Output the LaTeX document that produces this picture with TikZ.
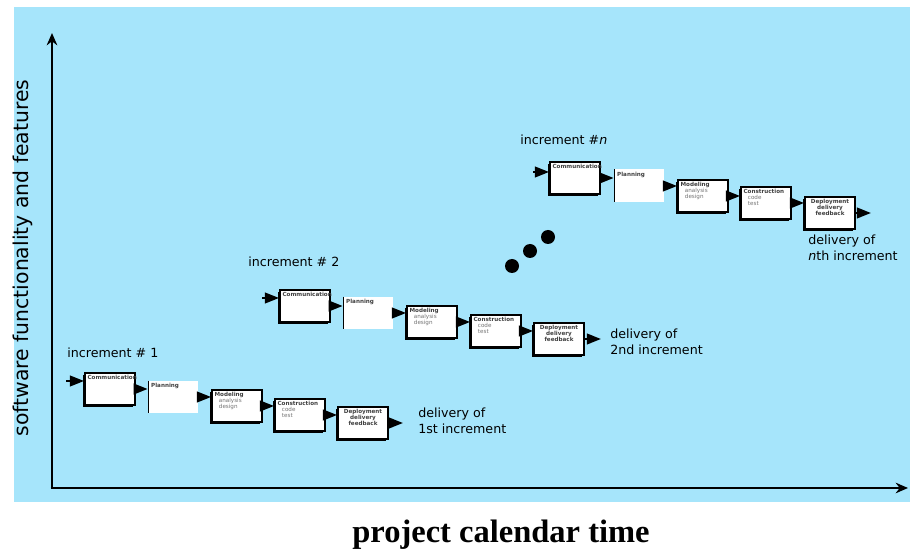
\documentclass[tikz,border=0pt]{standalone}
\usepackage{fontspec}
\setmainfont{DejaVu Sans}
\newfontfamily\calfont{Liberation Serif}
\usetikzlibrary{arrows.meta,shadows}
\definecolor{skyblue}{RGB}{166,229,251}
\newcommand{\phasesub}[1]{\hspace{2.5pt}{\mdseries\color{black!55}#1}}
\newcommand{\comtext}{Communication}
\newcommand{\plantext}{Planning}
\newcommand{\modtext}{Modeling\\[-0.5pt]\phasesub{analysis}\\[-0.5pt]\phasesub{design}}
\newcommand{\context}{Construction\\[-0.5pt]\phasesub{code}\\[-0.5pt]\phasesub{test}}
\newcommand{\deptext}{Deployment\\[-0.5pt]delivery\\[-0.5pt]feedback}
\tikzset{
  stage/.style={draw, line width=1.1pt, fill=white, minimum width=1cm, minimum height=0.64cm, inner sep=0pt,
    drop shadow={shadow xshift=-1pt, shadow yshift=-1pt, fill=black, opacity=1}},
  planbox/.style={fill=white, minimum width=1cm, minimum height=0.66cm, inner sep=0pt,
    path picture={\draw[line width=1.4pt] (path picture bounding box.north west) -- (path picture bounding box.south west);}},
  boxtext/.style={anchor=north west, inner sep=1.8pt, align=left, text=black!75, font=\fontsize{3.2}{3.8}\selectfont\bfseries},
  deptextstyle/.style={boxtext, anchor=north, align=center},
  flow/.style={line width=1.2pt, -{Triangle[length=8pt,width=6pt]}},
  axis/.style={line width=1.6pt, -{Stealth[length=7pt,width=6pt]}},
  inctext/.style={anchor=west, font=\fontsize{7.2}{8.8}\selectfont, align=left, inner sep=0pt},
  dot/.style={circle, fill=black, minimum size=0.28cm, inner sep=0pt}
}
\begin{document}
\begin{tikzpicture}[x=0.02cm, y=-0.02cm]
  \useasboundingbox (0,0) rectangle (910,550);
  \fill[skyblue] (14,7) rectangle (910,502);

  \coordinate (origin) at (52,488);
  \coordinate (ytop) at (52,33);
  \coordinate (xend) at (908,488);
  \draw[axis] (origin) -- (ytop);
  \draw[axis] ([xshift=-0.8pt]origin) -- (xend);

  \node[rotate=90, font=\fontsize{11.6}{13}\selectfont] (ylabel) at (23,258) {software functionality and features};
  \node[font=\calfont\bfseries\fontsize{18.5}{20}\selectfont] (xlabel) at (501,535) {project calendar time};

  % increment 1
  \node[inctext] (inc1) at (67,353) {increment \# 1};
  \node[stage, label={[boxtext]north west:\comtext}] (com1) at (110,389) {};
  \node[planbox, label={[boxtext]north west:\plantext}] (plan1) at (173,397) {};
  \node[stage, label={[boxtext]north west:\modtext}] (mod1) at (237,406) {};
  \node[stage, label={[boxtext]north west:\context}] (con1) at (300,415) {};
  \node[stage, label={[deptextstyle]north:\deptext}] (dep1) at (363,423) {};
  \coordinate (in1) at (66,381);
  \coordinate (out1) at (403,423);
  \draw[flow] (in1) -- (in1 -| com1.west);
  \draw[flow] (com1.east) -- (com1.east -| plan1.west);
  \draw[flow] (plan1.east) -- (plan1.east -| mod1.west);
  \draw[flow] (mod1.east) -- (mod1.east -| con1.west);
  \draw[flow] (con1.east) -- (con1.east -| dep1.west);
  \draw[flow] (dep1.east) -- (out1);
  \node[inctext] (done1) at (418,421) {delivery of\\1st increment};

  % increment 2
  \node[inctext] (inc2) at (248,262) {increment \# 2};
  \node[stage, label={[boxtext]north west:\comtext}] (com2) at (305,306) {};
  \node[planbox, label={[boxtext]north west:\plantext}] (plan2) at (368,313) {};
  \node[stage, label={[boxtext]north west:\modtext}] (mod2) at (432,322) {};
  \node[stage, label={[boxtext]north west:\context}] (con2) at (496,331) {};
  \node[stage, label={[deptextstyle]north:\deptext}] (dep2) at (559,339) {};
  \coordinate (in2) at (262,298);
  \coordinate (out2) at (601,339);
  \draw[flow] (in2) -- (in2 -| com2.west);
  \draw[flow] (com2.east) -- (com2.east -| plan2.west);
  \draw[flow] (plan2.east) -- (plan2.east -| mod2.west);
  \draw[flow] (mod2.east) -- (mod2.east -| con2.west);
  \draw[flow] (con2.east) -- (con2.east -| dep2.west);
  \draw[flow] (dep2.east) -- (out2);
  \node[inctext] (done2) at (610,342) {delivery of\\2nd increment};

  \node[dot] (dot1) at (512,266) {};
  \node[dot] (dot2) at (530,251) {};
  \node[dot] (dot3) at (548,237) {};

  % increment n
  \node[inctext] (incn) at (520,140) {increment \#\textit{n}};
  \node[stage, label={[boxtext]north west:\comtext}] (comn) at (575,178) {};
  \node[planbox, label={[boxtext]north west:\plantext}] (plann) at (639,186) {};
  \node[stage, label={[boxtext]north west:\modtext}] (modn) at (703,196) {};
  \node[stage, label={[boxtext]north west:\context}] (conn) at (766,203) {};
  \node[stage, label={[deptextstyle]north:\deptext}] (depn) at (830,213) {};
  \coordinate (inn) at (533,172);
  \coordinate (outn) at (871,213);
  \draw[flow] (inn) -- (inn -| comn.west);
  \draw[flow] (comn.east) -- (comn.east -| plann.west);
  \draw[flow] (plann.east) -- (plann.east -| modn.west);
  \draw[flow] (modn.east) -- (modn.east -| conn.west);
  \draw[flow] (conn.east) -- (conn.east -| depn.west);
  \draw[flow] (depn.east) -- (outn);
  \node[inctext] (donen) at (808,248) {delivery of\\\textit{n}th increment};
\end{tikzpicture}
\end{document}
